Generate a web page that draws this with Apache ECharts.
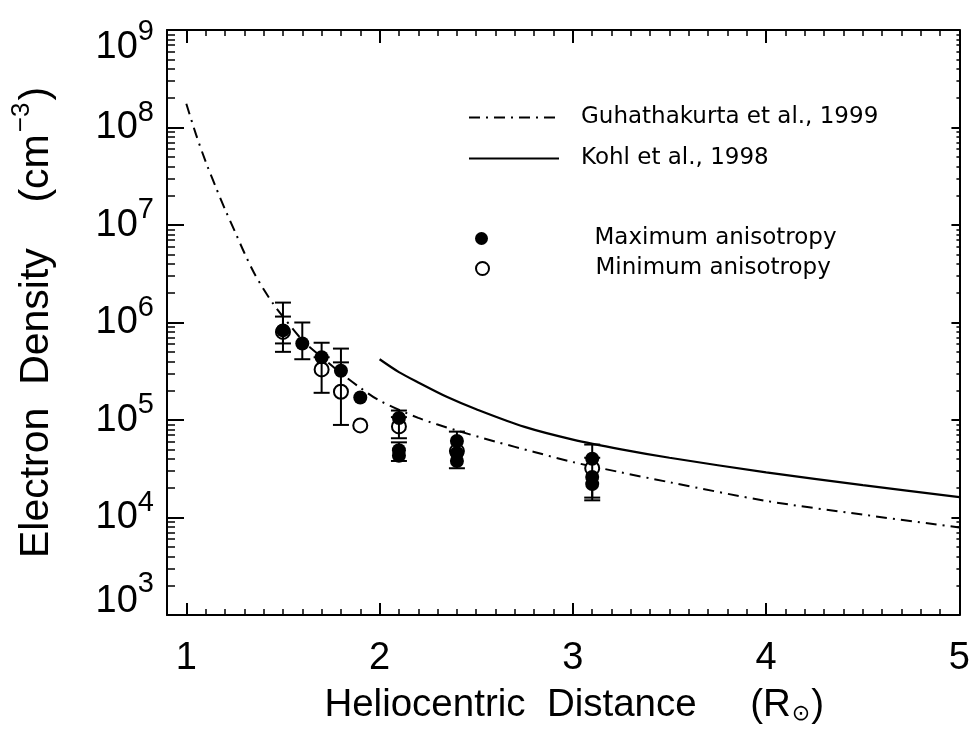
<!DOCTYPE html>
<html><head><meta charset="utf-8">
<script src="https://cdn.jsdelivr.net/npm/echarts@6/dist/echarts.min.js"></script>
<style>html,body{margin:0;padding:0;background:#fff}#c{width:973px;height:731px}</style>
</head><body><div id="c"></div>
<script>
// Guhathakurta et al., 1999 (dash-dot curve)
const guhX = [1.0, 1.05, 1.1, 1.15, 1.2, 1.25, 1.3, 1.35, 1.4, 1.45, 1.5, 1.6, 1.7, 1.8, 1.9, 2.0, 2.2, 2.4, 2.6, 2.8, 3.0, 3.25, 3.5, 4.0, 4.5, 5.0];
const guhY = [1.75e8, 8.5e7, 4.47e7, 2.51e7, 1.45e7, 8.7e6, 5.19e6, 3.24e6, 2.19e6, 1.55e6, 1.15e6, 6.6e5, 4.42e5, 3.02e5, 2.14e5, 1.58e5, 1.05e5, 7.8e4, 6.0e4, 4.7e4, 3.7e4, 2.9e4, 2.3e4, 1.48e4, 1.07e4, 7.9e3];
// Kohl et al., 1998 (solid curve)
const kohlX = [2.0, 2.1, 2.2, 2.35, 2.5, 2.75, 3.0, 3.25, 3.5, 4.0, 4.5, 5.0];
const kohlY = [4.2e5, 3.1e5, 2.43e5, 1.72e5, 1.29e5, 8.5e4, 6.3e4, 5.0e4, 4.1e4, 2.9e4, 2.15e4, 1.62e4];
// Maximum anisotropy (filled circles)
const maxX  = [1.5, 1.6, 1.7, 1.8, 1.9, 2.1, 2.1, 2.1, 2.4, 2.4, 2.4, 3.1, 3.1, 3.1];
const maxY  = [8.3e5, 6.1e5, 4.4e5, 3.2e5, 1.7e5, 1.05e5, 4.9e4, 4.3e4, 6.1e4, 4.6e4, 3.8e4, 4.0e4, 2.6e4, 2.2e4];
const maxLo = [5.0e5, 4.2e5, null, null, null, null, null, 3.8e4, null, null, 3.2e4, null, null, 1.5e4];
const maxHi = [1.6e6, 1.0e6, 6.2e5, 5.4e5, null, 1.25e5, null, 5.9e4, 7.6e4, null, null, 5.6e4, null, null];
// Minimum anisotropy (open circles)
const minX  = [1.5, 1.7, 1.8, 1.9, 2.1, 2.4, 3.1];
const minY  = [8.0e5, 3.3e5, 1.95e5, 8.8e4, 8.6e4, 4.8e4, 3.2e4];
const minLo = [6.1e5, 1.9e5, 8.9e4, null, 6.5e4, null, 1.6e4];
const minHi = [1.15e6, 4.4e5, 3.9e5, null, 1.07e5, null, 4.1e4];
// Ticks
const xTicks = [1, 2, 3, 4, 5];
const xMin = 0.9, xMax = 5.0, xMinorStep = 0.1;
const yMin = 1e3, yMax = 1e9;

const NAMES = ['Guhathakurta et al., 1999', 'Kohl et al., 1998', 'Maximum anisotropy', 'Minimum anisotropy'];

function pairs(xs, ys) { return xs.map((x, i) => [x, ys[i]]); }
function errRows(xs, ys, lo, hi) {
  return xs.map((x, i) => [x, ys[i], lo[i] == null ? ys[i] : lo[i], hi[i] == null ? ys[i] : hi[i], lo[i] == null ? 0 : 1, hi[i] == null ? 0 : 1]);
}
function renderErr(params, api) {
  const x = api.value(0), lo = api.value(2), hi = api.value(3);
  const hasLo = api.value(4), hasHi = api.value(5);
  if (!hasLo && !hasHi) return null;
  const pLo = api.coord([x, lo]), pHi = api.coord([x, hi]);
  const w = 8, st = { stroke: '#000', lineWidth: 2 };
  const ch = [{ type: 'line', shape: { x1: pLo[0], y1: pLo[1], x2: pHi[0], y2: pHi[1] }, style: st }];
  if (hasLo) ch.push({ type: 'line', shape: { x1: pLo[0] - w, y1: pLo[1], x2: pLo[0] + w, y2: pLo[1] }, style: st });
  if (hasHi) ch.push({ type: 'line', shape: { x1: pHi[0] - w, y1: pHi[1], x2: pHi[0] + w, y2: pHi[1] }, style: st });
  return { type: 'group', children: ch };
}

const AXL = { lineStyle: { color: '#000', width: 2 }, onZero: false };
const tickStyle = (w) => ({ color: '#000', width: w });
const FONT = 'Liberation Sans';
const LEGFONT = 'DejaVu Sans';

function yLabel(v) {
  const e = Math.round(Math.log10(v));
  if (Math.abs(v - yMax) < 1) return '{bT|10}{sT|' + e + '}';
  if (Math.abs(v - yMin) < 1) return '{bB|10}{sB|' + e + '}';
  return '{b|10}{s|' + e + '}';
}
const bS = { fontSize: 38, fontFamily: FONT, color: '#000', verticalAlign: 'bottom' };
const sS = { fontSize: 29, fontFamily: FONT, color: '#000', verticalAlign: 'bottom' };
const legText = (pad) => ({ fontSize: 23, fontFamily: LEGFONT, color: '#000', padding: [0, 0, 0, pad] });

const chart = echarts.init(document.getElementById('c'), null, { renderer: 'canvas' });
chart.setOption({
  animation: false,
  backgroundColor: '#fff',
  grid: { left: 167, right: 11, top: 30, bottom: 116 },
  xAxis: [
    { type: 'value', min: xMin, max: xMax, position: 'bottom', axisLine: AXL,
      axisTick: { inside: true, length: 12, customValues: xTicks, lineStyle: tickStyle(2) },
      axisLabel: { customValues: xTicks, fontSize: 38, fontFamily: FONT, color: '#000', margin: 25 },
      splitLine: { show: false },
      name: '{t|Heliocentric  Distance     (R}{sub|\u2299}{t|)}', nameLocation: 'middle', nameGap: 71,
      nameTextStyle: { padding: [0, 0, 0, 22], rich: { t: { fontSize: 38.5, fontFamily: FONT, color: '#000', verticalAlign: 'bottom' },
                               sub: { fontSize: 22, fontFamily: 'DejaVu Sans', color: '#000', verticalAlign: 'bottom', padding: [0, 1, 0, 1] } } } },
    { type: 'value', min: xMin, max: xMax, interval: xMinorStep, position: 'bottom', axisLine: { show: false, onZero: false },
      axisTick: { inside: true, length: 6, lineStyle: tickStyle(1.5) }, axisLabel: { show: false }, splitLine: { show: false } },
    { type: 'value', min: xMin, max: xMax, position: 'top', axisLine: AXL,
      axisTick: { inside: true, length: 13, customValues: xTicks, lineStyle: tickStyle(2) },
      axisLabel: { show: false }, splitLine: { show: false } },
    { type: 'value', min: xMin, max: xMax, interval: xMinorStep, position: 'top', axisLine: { show: false, onZero: false },
      axisTick: { inside: true, length: 6, lineStyle: tickStyle(1.5) }, axisLabel: { show: false }, splitLine: { show: false } }
  ],
  yAxis: [
    { type: 'log', logBase: 10, min: yMin, max: yMax, position: 'left', axisLine: AXL,
      axisTick: { inside: true, length: 17, lineStyle: tickStyle(2) },
      minorTick: { show: true, splitNumber: 9, length: 8, lineStyle: tickStyle(1.5) },
      splitLine: { show: false }, minorSplitLine: { show: false },
      axisLabel: { formatter: yLabel, margin: 13, padding: [0, 0, 10, 0],
        rich: {
          b: bS, s: Object.assign({}, sS, { padding: [0, 0, 20, 0] }),
          bT: Object.assign({}, bS, { padding: [34, 0, 0, 0] }), sT: Object.assign({}, sS, { padding: [34, 0, 20, 0] }),
          bB: Object.assign({}, bS, { padding: [0, 0, 30, 0] }), sB: Object.assign({}, sS, { padding: [0, 0, 52, 0] })
        } },
      name: '{t|Electron  Density    (cm}{sup|\u22123}{t|)}', nameLocation: 'middle', nameGap: 110, nameRotate: 90,
      nameTextStyle: { rich: { t: { fontSize: 41, fontFamily: FONT, color: '#000', verticalAlign: 'bottom' },
                               sup: { fontSize: 26, fontFamily: FONT, color: '#000', verticalAlign: 'bottom', padding: [0, 2, 22, 2] } } } },
    { type: 'log', logBase: 10, min: yMin, max: yMax, position: 'right', axisLine: AXL,
      axisTick: { inside: true, length: 8, lineStyle: tickStyle(2) },
      minorTick: { show: true, splitNumber: 9, length: 3, lineStyle: tickStyle(1.5) },
      splitLine: { show: false }, minorSplitLine: { show: false }, axisLabel: { show: false } }
  ],
  legend: [
    { data: [NAMES[0]], left: 468, top: 106, padding: 0, itemWidth: 90, itemHeight: 14, selectedMode: false,
      itemStyle: { opacity: 0 }, textStyle: legText(17) },
    { data: [NAMES[1]], left: 468, top: 147, padding: 0, itemWidth: 90, itemHeight: 14, selectedMode: false,
      itemStyle: { opacity: 0 }, textStyle: legText(17) },
    { data: [NAMES[2]], left: 475, top: 227, padding: 0, itemWidth: 14, itemHeight: 13, selectedMode: false,
      textStyle: legText(101) },
    { data: [NAMES[3]], left: 475, top: 257, padding: 0, itemWidth: 14, itemHeight: 13, selectedMode: false,
      textStyle: legText(101) }
  ],
  series: [
    { name: NAMES[0], type: 'line', data: pairs(guhX, guhY), symbol: 'none', showSymbol: false, smooth: 0.3,
      lineStyle: { color: '#000', width: 2, type: [11, 6, 2, 6] }, itemStyle: { color: '#000' }, z: 2 },
    { name: NAMES[1], type: 'line', data: pairs(kohlX, kohlY), symbol: 'none', showSymbol: false, smooth: 0.3,
      lineStyle: { color: '#000', width: 2.2, type: 'solid' }, itemStyle: { color: '#000' }, z: 2 },
    { name: NAMES[3], type: 'scatter', data: pairs(minX, minY), symbol: 'circle', symbolSize: 14,
      itemStyle: { color: '#fff', borderColor: '#000', borderWidth: 2, opacity: 1 }, z: 3 },
    { name: NAMES[2], type: 'scatter', data: pairs(maxX, maxY), symbol: 'circle', symbolSize: 14,
      itemStyle: { color: '#000', opacity: 1 }, z: 4 },
    { type: 'custom', data: errRows(minX, minY, minLo, minHi), renderItem: renderErr, encode: { x: 0, y: 1 }, z: 5, silent: true },
    { type: 'custom', data: errRows(maxX, maxY, maxLo, maxHi), renderItem: renderErr, encode: { x: 0, y: 1 }, z: 5, silent: true }
  ]
});
</script>
</body></html>
